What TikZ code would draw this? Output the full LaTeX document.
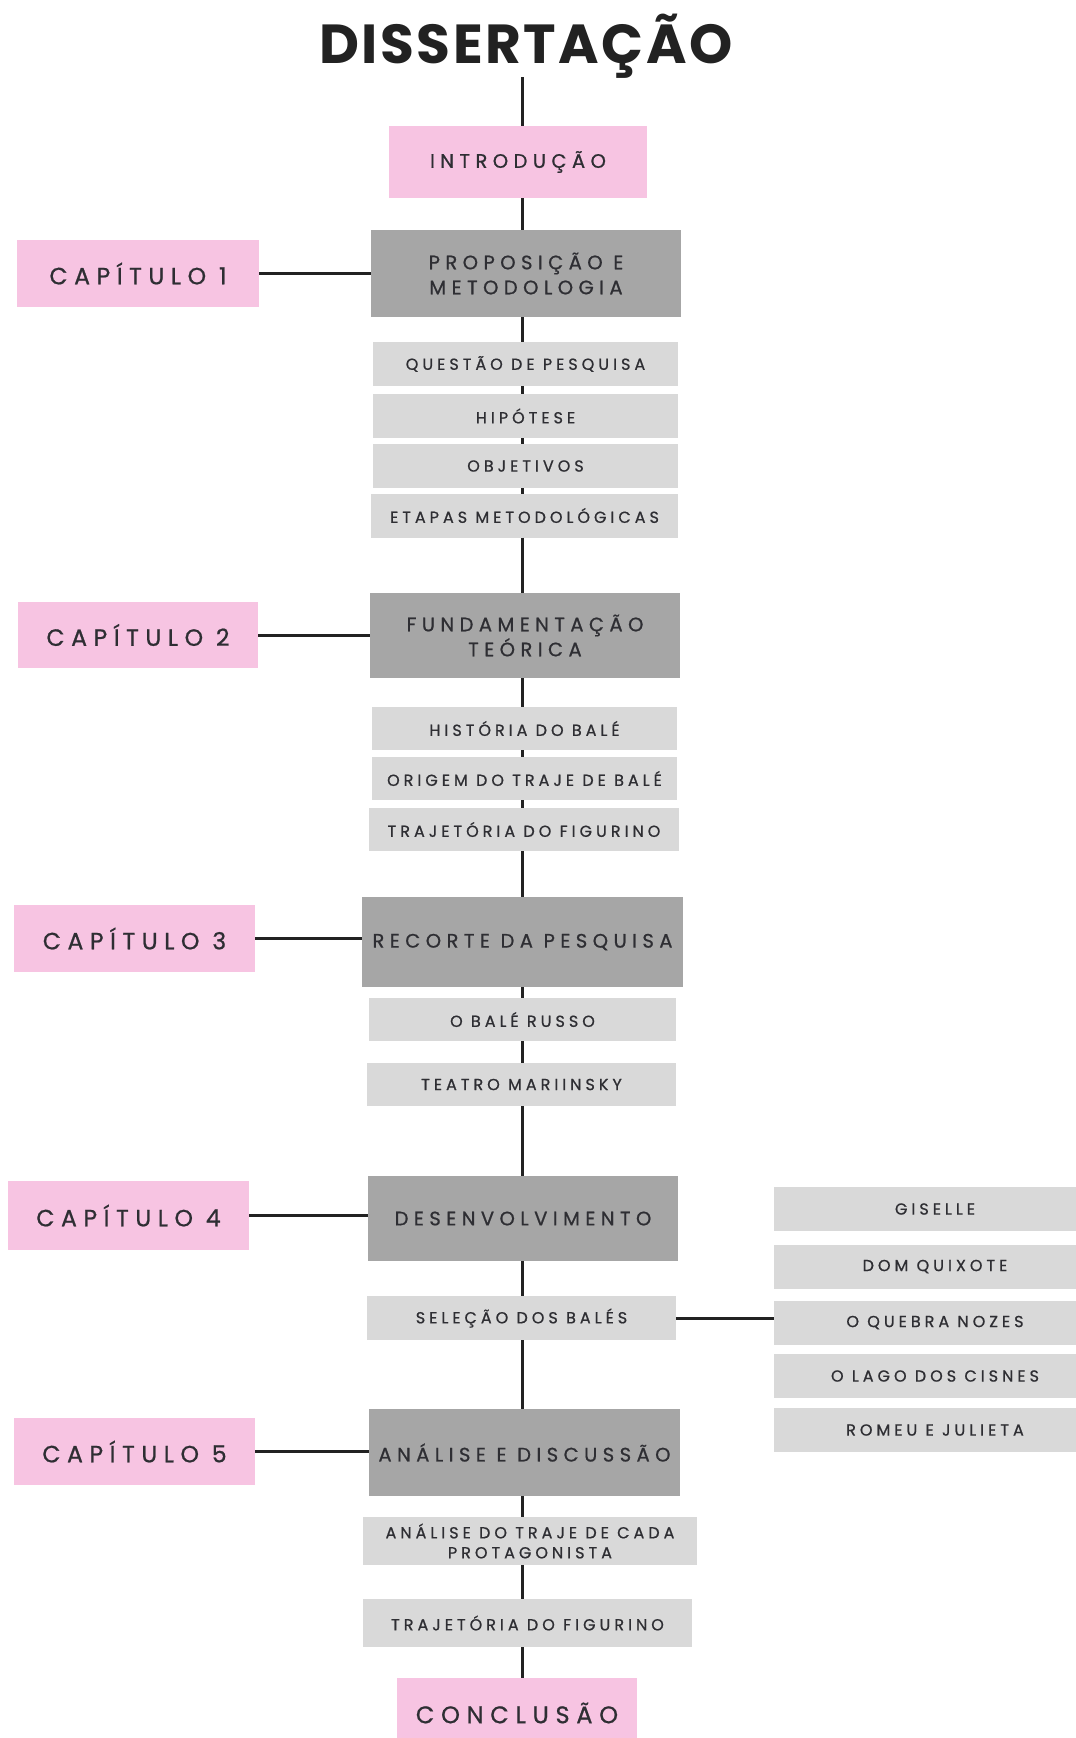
\documentclass[tikz,border=0pt]{standalone}
\usepackage{fontspec}
\setmainfont{Poppins}
\newfontfamily\labf[LetterSpace=28, FakeBold=0.8]{Poppins}
\newfontfamily\subf[LetterSpace=25, FakeBold=0.8]{Poppins}
\newfontfamily\titf[LetterSpace=4.5]{Poppins}
\definecolor{pinkb}{HTML}{F7C4E2}
\definecolor{dgray}{HTML}{A6A6A6}
\definecolor{lgray}{HTML}{D9D9D9}
\definecolor{ink}{HTML}{2E2E33}
\definecolor{linec}{HTML}{222222}
\begin{document}
\begin{tikzpicture}[x=1pt,y=-1pt,
  box/.style={rectangle, inner sep=0pt, outer sep=0pt, align=center, text=ink},
  capbox/.style={box, fill=pinkb, minimum width=241, minimum height=67, font=\labf\fontsize{23.5}{28}\selectfont},
  endbox/.style={box, fill=pinkb, font=\labf\fontsize{19.5}{24}\selectfont},
  majbox/.style={box, fill=dgray, minimum width=310, minimum height=86, font=\labf\fontsize{19.5}{25}\selectfont},
  subbox/.style={box, fill=lgray, minimum height=44, font=\subf\fontsize{16}{20}\selectfont},
  conn/.style={draw=linec, line width=3pt}]
\useasboundingbox (0,0) rectangle (1076,1738);
\clip (0,0) rectangle (1076,1738);
\fill[white] (0,0) rectangle (1076,1738);
\coordinate (sp) at (522,0);

% title
\node[anchor=base, text=linec, inner sep=0pt, font=\titf\bfseries\fontsize{55}{60}\selectfont] (title) at (526,63) {DISSERTAÇÃO};
\coordinate (tb) at (522,77);

% main column
\node[endbox, minimum width=258, minimum height=72] (intro) at (518,162) {INTRODUÇÃO};
\node[majbox, minimum height=87] (prop) at (526,273.5) {PROPOSIÇÃO E\\METODOLOGIA};
\node[subbox, minimum width=305] (q1) at (525.5,364) {QUESTÃO DE PESQUISA};
\node[subbox, minimum width=305] (q2) at (525.5,416) {HIPÓTESE};
\node[subbox, minimum width=305] (q3) at (525.5,466) {OBJETIVOS};
\node[subbox, minimum width=307] (q4) at (524.5,515.5) {ETAPAS METODOLÓGICAS};
\node[majbox, minimum height=85] (fund) at (525,635.5) {FUNDAMENTAÇÃO\\TEÓRICA};
\node[subbox, minimum width=305, minimum height=43] (h1) at (524.5,728.5) {HISTÓRIA DO BALÉ};
\node[subbox, minimum width=305, minimum height=43] (h2) at (524.5,778.5) {ORIGEM DO TRAJE DE BALÉ};
\node[subbox, minimum width=310, minimum height=43] (h3) at (524,829.5) {TRAJETÓRIA DO FIGURINO};
\node[majbox, minimum width=321, minimum height=90] (rec) at (522.5,942) {RECORTE DA PESQUISA};
\node[subbox, minimum width=307, minimum height=43] (r1) at (522.5,1019.5) {O BALÉ RUSSO};
\node[subbox, minimum width=309, minimum height=43] (r2) at (521.5,1084.5) {TEATRO MARIINSKY};
\node[majbox, minimum height=85] (des) at (523,1218.5) {DESENVOLVIMENTO};
\node[subbox, minimum width=309] (sel) at (521.5,1318) {SELEÇÃO DOS BALÉS};
\node[majbox, minimum width=311, minimum height=87] (ana) at (524.5,1452.5) {ANÁLISE E DISCUSSÃO};
\node[subbox, minimum width=334, minimum height=48] (a1) at (530,1541) {ANÁLISE DO TRAJE DE CADA\\PROTAGONISTA};
\node[subbox, minimum width=329, minimum height=48] (a2) at (527.5,1623) {TRAJETÓRIA DO FIGURINO};
\node[endbox, minimum width=240, minimum height=70, font=\labf\fontsize{24}{28}\selectfont] (concl) at (517,1713) {CONCLUSÃO};

% chapter labels
\node[capbox, minimum width=242] (c1) at (138,273.5) {CAPÍTULO 1};
\node[capbox, minimum width=240, minimum height=66] (c2) at (138,635) {CAPÍTULO 2};
\node[capbox] (c3) at (134.5,938.5) {CAPÍTULO 3};
\node[capbox, minimum height=69] (c4) at (128.5,1215.5) {CAPÍTULO 4};
\node[capbox] (c5) at (134.5,1451.5) {CAPÍTULO 5};

% ballets
\node[subbox, minimum width=322] (b1) at (935,1209) {GISELLE};
\node[subbox, minimum width=322] (b2) at (935,1266.5) {DOM QUIXOTE};
\node[subbox, minimum width=322] (b3) at (935,1322.5) {O QUEBRA NOZES};
\node[subbox, minimum width=322] (b4) at (935,1376) {O LAGO DOS CISNES};
\node[subbox, minimum width=322] (b5) at (935,1430) {ROMEU E JULIETA};

% spine connectors
\draw[conn] (tb) -- (intro.north -| sp);
\foreach \a/\b in {intro/prop,prop/q1,q1/q2,q2/q3,q3/q4,q4/fund,fund/h1,h1/h2,h2/h3,h3/rec,rec/r1,r1/r2,r2/des,des/sel,sel/ana,ana/a1,a1/a2,a2/concl}
  \draw[conn] (\a.south -| sp) -- (\b.north -| sp);

% chapter connectors
\draw[conn] (c1.east) -- (c1.east -| prop.west);
\draw[conn] (c2.east) -- (c2.east -| fund.west);
\draw[conn] (c3.east) -- (c3.east -| rec.west);
\draw[conn] (c4.east) -- (c4.east -| des.west);
\draw[conn] (c5.east) -- (c5.east -| ana.west);
\draw[conn] (sel.east) -- (sel.east -| b3.west);
\end{tikzpicture}
\end{document}
